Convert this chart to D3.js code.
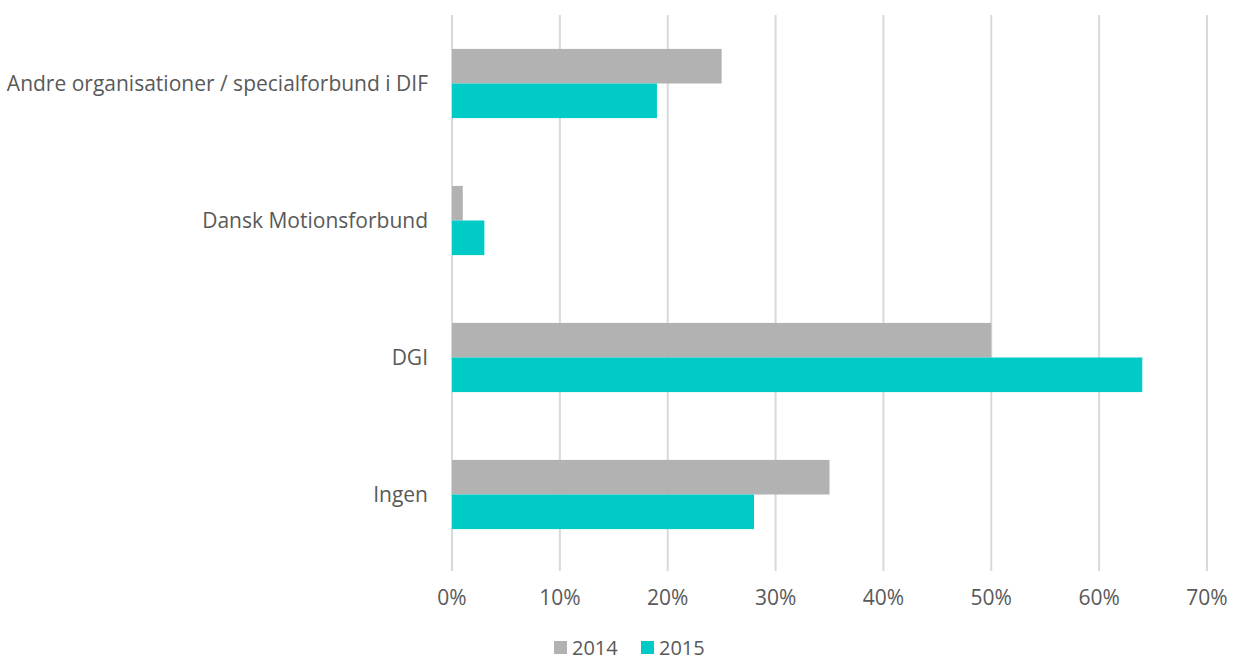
<!DOCTYPE html>
<html><head><meta charset="utf-8">
<script src="https://cdn.jsdelivr.net/npm/d3@7"></script>
<style>body{margin:0;background:#fff}text{font-family:"Open Sans","Liberation Sans",sans-serif;fill:#595959}</style>
</head><body><svg id="c" width="1233" height="662"></svg>
<script>
const categories = ["Andre organisationer / specialforbund i DIF","Dansk Motionsforbund","DGI","Ingen"];
const series = ["2014","2015"];
const values2014 = [25,1,50,35];
const values2015 = [19,3,64,28];
const ticks = [0,10,20,30,40,50,60,70];
const colors = ["#b2b2b2","#00cbc6"];

const svg = d3.select("#c");
const m = {l:452, r:1207, t:15, b:563};
const x = d3.scaleLinear().domain([0,70]).range([m.l,m.r]);
const y = d3.scaleBand().domain(categories).range([m.t,m.b]);
const y2 = d3.scaleBand().domain(series).range([0,y.bandwidth()]).paddingInner(0).paddingOuter(0.98);

svg.append("g").selectAll("line").data(ticks).join("line")
 .attr("x1",d=>x(d)).attr("x2",d=>x(d)).attr("y1",m.t).attr("y2",m.b+8)
 .attr("stroke","#d9d9d9").attr("stroke-width",2);

const data = [values2014, values2015];
series.forEach((s,si)=>{
  svg.append("g").selectAll("rect").data(categories).join("rect")
   .attr("x",x(0)).attr("y",c=>y(c)+y2(s))
   .attr("width",(c,i)=>x(data[si][i])-x(0)).attr("height",y2.bandwidth())
   .attr("fill",colors[si]);
});

svg.append("g").selectAll("text").data(categories).join("text")
 .attr("x",428).attr("y",c=>y(c)+y.bandwidth()/2).attr("dy","0.35em")
 .attr("text-anchor","end").attr("font-size",21).text(d=>d);

svg.append("g").selectAll("text").data(ticks).join("text")
 .attr("x",d=>x(d)).attr("y",598).attr("dy","0.35em").attr("text-anchor","middle")
 .attr("font-size",21).text(d=>d+"%");

const lg = svg.append("g");
const lx = [554,641];
series.forEach((s,i)=>{
  lg.append("rect").attr("x",lx[i]).attr("y",641).attr("width",13).attr("height",13).attr("fill",colors[i]);
  lg.append("text").attr("x",lx[i]+18).attr("y",648).attr("dy","0.35em").attr("font-size",20).text(s);
});
</script></body></html>
